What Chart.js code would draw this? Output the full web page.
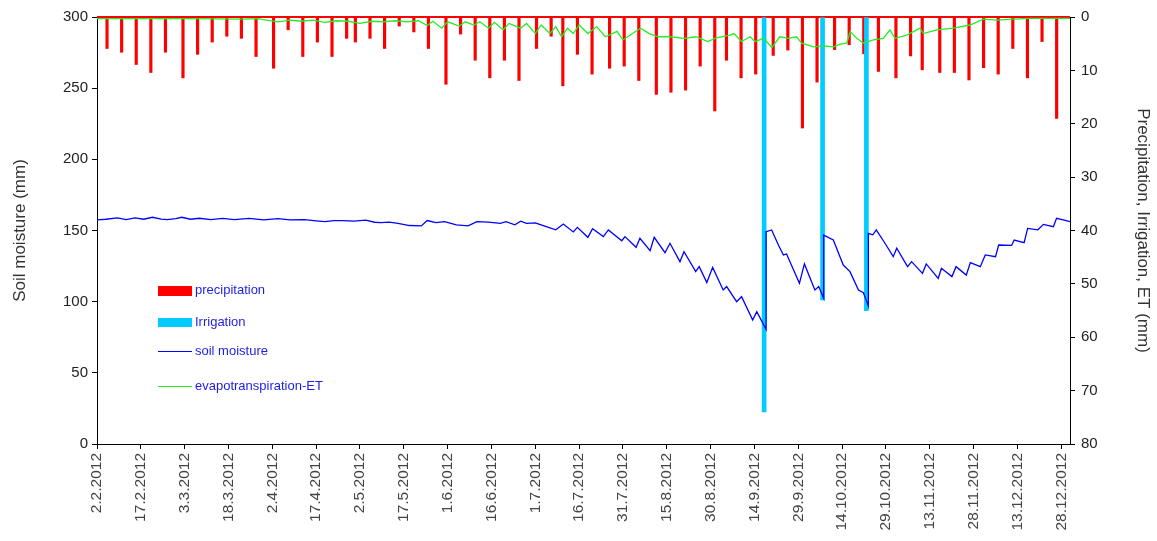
<!DOCTYPE html>
<html>
<head>
<meta charset="utf-8">
<script src="https://cdn.jsdelivr.net/npm/chart.js@4.4.1/dist/chart.umd.min.js"></script>
<style>
    body { margin: 0; background: #fff; }
    #wrap { position: relative; width: 1157px; height: 541px; }
    .leg { position: absolute; left: 158px; font: 13px "Liberation Sans", Arial, sans-serif; color: #1c1ce6; }
    .leg span { display: inline-block; width: 34px; vertical-align: middle; margin-right: 3px; }
</style>
</head>
<body>
<div id="wrap">
    <canvas id="chart" width="1157" height="541"></canvas>
    <div class="leg" style="top:282px;"><span style="height:10px;background:#ff0000;"></span>precipitation</div>
    <div class="leg" style="top:314px;"><span style="height:9px;background:#00ccff;"></span>Irrigation</div>
    <div class="leg" style="top:343px;"><span style="height:1.5px;background:#0000ff;"></span>soil moisture</div>
    <div class="leg" style="top:378px;"><span style="height:1.5px;background:#22ee22;"></span>evapotranspiration-ET</div>
</div>
<script>
// days counted from 2.2.2012
const tickDays = [0, 15, 30, 45, 60, 75, 90, 105, 120, 135, 150, 165, 180, 195, 210, 225, 240, 255, 270, 285, 300, 315, 330];
const tickLabels = ['2.2.2012', '17.2.2012', '3.3.2012', '18.3.2012', '2.4.2012', '17.4.2012', '2.5.2012', '17.5.2012',
    '1.6.2012', '16.6.2012', '1.7.2012', '16.7.2012', '31.7.2012', '15.8.2012', '30.8.2012', '14.9.2012', '29.9.2012',
    '14.10.2012', '29.10.2012', '13.11.2012', '28.11.2012', '13.12.2012', '28.12.2012'];

const precipDays = [3, 8, 13, 18, 23, 29, 34, 39, 44, 49, 54, 60, 65, 70, 75, 80, 85, 88, 93, 98, 103, 108, 113, 119, 124,
    129, 134, 139, 144, 150, 155, 159, 164, 169, 175, 180, 185, 191, 196, 201, 206, 211, 215, 220, 225, 231, 236, 241, 246,
    252, 257, 262, 267, 273, 278, 282, 288, 293, 298, 303, 308, 313, 318, 323, 328];
const precipMm = [5.9, 6.6, 8.9, 10.4, 6.6, 11.4, 7.0, 4.7, 3.6, 4.0, 7.4, 9.6, 2.4, 7.4, 4.7, 7.4, 4.0, 4.7, 4.0, 5.9, 1.7, 2.8, 5.9, 12.6, 3.2,
    8.1, 11.4, 8.1, 11.9, 5.9, 3.6, 12.9, 7.0, 10.7, 9.6, 9.2, 11.9, 14.5, 14.1, 13.7, 9.2, 17.6, 8.1, 11.4, 10.7, 7.2, 6.2, 20.8, 12.2,
    6.1, 5.2, 6.9, 10.2, 11.4, 7.3, 9.9, 10.4, 10.4, 11.8, 9.5, 10.7, 5.9, 11.4, 4.6, 19.0];

const irrDays = [229, 249, 264];
const irrMm = [74, 53, 55];

const smDays = [0, 3, 7, 10, 13, 16, 19, 22, 24, 27, 29, 32, 35, 39, 43, 47, 52, 57, 62, 66, 71, 75, 78, 81, 84, 88, 92, 95, 97,
    100, 103, 107, 111, 113, 116, 119, 123, 127, 130, 134, 138, 140, 143, 145, 147, 150, 153, 157, 159.6, 163, 164.4, 168,
    169.6, 173.3, 175, 179.6, 180.7, 184.5, 185.8, 189.3, 190.7, 194.4, 196.1, 199.5, 200.9, 204.9, 206.1, 208.7, 210.7,
    214.3, 215.5, 218.9, 220.6, 224.4, 225.8, 229, 229, 230.9, 233.2, 234.9, 236, 240.4, 242.1, 245, 245.7, 247, 248.7, 248.7,
    252, 255.4, 257.7, 260.6, 262.3, 264, 264, 265.5, 266.7, 270, 272.5, 273.7, 277.4, 278.8, 282.5, 283.8, 287.9, 289, 292.6,
    294, 297.5, 298.9, 302.3, 304, 307.5, 308.6, 313, 313.9, 317.3, 318.5, 322, 323.9, 327.3, 328.4, 330.7, 333];
const smValues = [157.5, 157.9, 158.8, 157.6, 158.8, 157.9, 159.3, 158, 157.6, 158.4, 159.3, 157.9, 158.6, 157.6, 158.5, 157.6,
    158.5, 157.5, 158.3, 157.5, 157.6, 156.8, 156.2, 157, 156.9, 156.6, 157.3, 155.8, 155.5, 155.9, 155, 153.5, 153.2, 157,
    155.6, 156.2, 154, 153.2, 156.2, 155.9, 155, 156.2, 154, 156.6, 155, 155.3, 153.2, 150.5, 154.6, 149, 152.2, 145.2,
    151.3, 145.7, 150.4, 142.8, 145.7, 138.2, 144.5, 135.8, 145.2, 134.4, 141, 128.1, 135.1, 121.1, 124.6, 113.4, 124.1,
    108.2, 110.6, 100, 103.5, 87.1, 93, 80.6, 149.2, 150.4, 139.8, 132.8, 133.5, 112.9, 126.5, 111.7, 108.2, 110.6, 102.4, 146.8,
    143.3, 125.7, 121.1, 108.2, 106.3, 97, 148, 147, 150.4, 140, 131.6, 137.5, 124.6, 128.1, 119.9, 126.5, 116.4, 123.4, 117.6,
    124.6, 118.7, 127.4, 124.6, 132.8, 131.6, 139.8, 139.5, 143.3, 141.4, 151.5, 150.5, 154.3, 152.7, 158.6, 157.4, 156.2];

const etDays = [0, 10, 20, 30, 40, 50, 55, 58, 62, 66, 70, 74, 78, 82, 86, 90, 94, 98, 102, 106, 110, 113, 115, 118, 120, 124,
    126, 129, 131, 134, 136, 139, 141, 145, 147, 150, 152, 155, 157, 159, 161, 163, 165, 168, 171, 174, 178, 180, 183, 186,
    189, 192, 196, 201, 205, 209, 212, 216.6, 218, 220.6, 223.5, 225.2, 228.1, 231, 233.7, 236.6, 239.4, 241.2, 245.2, 248.6,
    252, 254.4, 256.6, 257.8, 260, 262.3, 265.7, 269.1, 271.4, 273.1, 277.1, 281.7, 282.8, 287.4, 293.1, 298.8, 303.4, 308,
    313.6, 319.4, 333];
const etMm = [0.3, 0.3, 0.3, 0.3, 0.35, 0.4, 0.3, 0.6, 0.9, 0.6, 0.8, 0.6, 1.0, 0.7, 0.8, 1.2, 0.8, 0.9, 0.7, 0.9, 0.7, 1.6, 0.8,
    2.1, 0.9, 1.7, 0.9, 1.5, 0.9, 2.1, 1.0, 2.4, 1.2, 2.1, 1.2, 3.1, 1.5, 3.1, 1.8, 3.7, 2.1, 3.1, 1.5, 3.1, 1.8, 3.7, 2.7, 4.3,
    3.2, 2.1, 3.1, 3.7, 3.7, 4.0, 3.7, 4.6, 3.9, 3.4, 3.1, 4.6, 3.7, 4.6, 4.0, 5.7, 3.7, 4.0, 3.7, 4.9, 5.6, 5.4, 5.6, 5.1, 4.9,
    2.7, 4.0, 4.9, 4.3, 4.0, 2.4, 4.0, 3.4, 2.1, 3.1, 2.4, 2.1, 1.5, 0.4, 0.6, 0.4, 0.25, 0.25];

const pts = (xs, ys) => xs.map((x, i) => ({ x: x, y: ys[i] }));
const FONT = '"Liberation Sans", Arial, sans-serif';

// red zero line along the top of the plot
const topLine = {
    id: 'topLine',
    beforeDatasetsDraw(chart) {
        const { ctx, chartArea } = chart;
        ctx.save();
        ctx.strokeStyle = '#ff0000';
        ctx.lineWidth = 2;
        ctx.beginPath();
        ctx.moveTo(chartArea.left, chartArea.top);
        ctx.lineTo(chartArea.right, chartArea.top);
        ctx.stroke();
        ctx.restore();
    }
};

new Chart(document.getElementById('chart'), {
    type: 'bar',
    data: {
        datasets: [
            { type: 'line', label: 'soil moisture', data: pts(smDays, smValues), yAxisID: 'y',
              borderColor: '#0000ff', borderWidth: 1.3, pointRadius: 0, tension: 0, order: 1 },
            { type: 'line', label: 'evapotranspiration-ET', data: pts(etDays, etMm), yAxisID: 'y2',
              borderColor: '#22ee22', borderWidth: 1.3, pointRadius: 0, tension: 0, order: 2 },
            { label: 'Irrigation', data: pts(irrDays, irrMm), yAxisID: 'y2',
              backgroundColor: '#00ccff', barThickness: 4, order: 3 },
            { label: 'precipitation', data: pts(precipDays, precipMm), yAxisID: 'y2',
              backgroundColor: '#ff0000', barThickness: 2.5, order: 4 }
        ]
    },
    options: {
        responsive: false,
        animation: false,
        layout: { padding: { top: 17, left: 0, right: 0, bottom: 0 } },
        plugins: { legend: { display: false }, tooltip: { enabled: false } },
        scales: {
            x: {
                type: 'linear', min: 0, max: 333, offset: false,
                afterBuildTicks: (s) => { s.ticks = tickDays.map(v => ({ value: v })); },
                afterFit: (s) => { s.height = 97; },
                grid: { drawOnChartArea: false, offset: false, tickLength: 5, color: '#000' },
                border: { color: '#000', width: 1 },
                ticks: {
                    minRotation: 90, maxRotation: 90, autoSkip: false, padding: 4,
                    color: '#444', font: { family: FONT, size: 15.5 },
                    callback: (v) => tickLabels[tickDays.indexOf(v)]
                }
            },
            y: {
                position: 'left', min: 0, max: 300,
                afterFit: (s) => { s.width = 97; },
                grid: { drawOnChartArea: false, tickLength: 5, color: '#000' },
                border: { color: '#000', width: 1 },
                ticks: { stepSize: 50, color: '#222', padding: 4, font: { family: FONT, size: 15 } },
                title: { display: true, text: 'Soil moisture (mm)', color: '#333', padding: { top: 10 },
                         font: { family: FONT, size: 17 } }
            },
            y2: {
                position: 'right', min: 0, max: 80, reverse: true,
                afterFit: (s) => { s.width = 87; },
                grid: { drawOnChartArea: false, tickLength: 5, color: '#000' },
                border: { color: '#000', width: 1 },
                ticks: { stepSize: 10, color: '#222', padding: 6, font: { family: FONT, size: 15 } },
                title: { display: true, text: 'Precipitation, Irrigation, ET (mm)', color: '#333', padding: { bottom: 10 },
                         font: { family: FONT, size: 17 } }
            }
        }
    },
    plugins: [topLine]
});
</script>
</body>
</html>
